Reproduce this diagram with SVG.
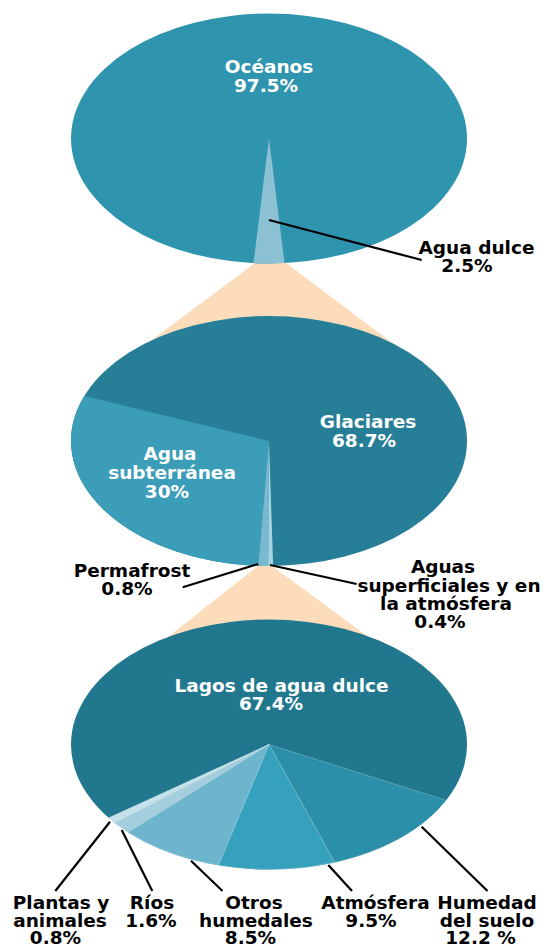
<svg xmlns="http://www.w3.org/2000/svg" width="544" height="947" viewBox="0 0 544 947">
<style>
text{font-family:"DejaVu Sans","Liberation Sans",sans-serif;font-weight:bold;font-size:18.5px;text-anchor:middle}
.w{fill:#ffffff}
.k{fill:#000000}
.ld{stroke:#000000;stroke-width:2.2;fill:none}
.pe{fill:#fddcbb}
.sl{stroke:#ffffff;stroke-opacity:.3;stroke-width:.8}
</style>
<g id="zoom-links">
<polygon class="pe" points="261.7,258 279.5,258 395,345 145,345"/>
<polygon class="pe" points="260.5,564 269.3,564 372.5,640 164,640"/>
</g>
<g id="pie-total">
<ellipse cx="269" cy="138.5" rx="198" ry="125" fill="#2f95ae"/>
<path id="agua-dulce-slice" d="M269,138.5 L284.5,263.1 A198,125 0 0 1 253.5,263.1 Z" fill="#8cc0d3"/>
<text class="w" x="269" y="73">Océanos</text>
<text class="w" x="266" y="92">97.5%</text>
</g>
<g id="pie-dulce">
<ellipse cx="269" cy="441" rx="198" ry="125" fill="#277f97"/>
<path d="M269,441 L258.22,565.8 A198,125 0 0 1 84.31,395.96 Z" fill="#3b9db8"/>
<path d="M269,441 L268.17,566 A198,125 0 0 1 258.22,565.8 Z" fill="#78b9d0"/>
<path d="M269,441 L273.15,565.97 A198,125 0 0 1 268.17,566 Z" fill="#a8d3e2"/>
<text class="w" x="368" y="428">Glaciares</text>
<text class="w" x="364" y="447">68.7%</text>
<text class="w" x="170" y="460">Agua</text>
<text class="w" x="172" y="479">subterránea</text>
<text class="w" x="167" y="498">30%</text>
</g>
<g id="pie-superficial">
<ellipse cx="269" cy="744.5" rx="198" ry="125" fill="#21778d"/>
<path class="sl" d="M269,744.5 L446.2,800.3 A198,125 0 0 1 334.77,862.4 Z" fill="#2b8fa9"/>
<path class="sl" d="M269,744.5 L334.77,862.4 A198,125 0 0 1 218.42,865.35 Z" fill="#36a1bc"/>
<path class="sl" d="M269,744.5 L218.42,865.35 A198,125 0 0 1 128.02,832.27 Z" fill="#6db5cd"/>
<path class="sl" d="M269,744.5 L128.02,832.27 A198,125 0 0 1 114.58,822.74 Z" fill="#a3cedd"/>
<path class="sl" d="M269,744.5 L114.58,822.74 A198,125 0 0 1 108.61,817.8 Z" fill="#c5e1ea"/>
<text class="w" x="281.5" y="692">Lagos de agua dulce</text>
<text class="w" x="271" y="710">67.4%</text>
</g>
<g id="connectors">
<line class="ld" x1="269" y1="220" x2="421.7" y2="260"/>
<line class="ld" x1="258.3" y1="564" x2="182.7" y2="587.3"/>
<line class="ld" x1="270" y1="565" x2="356.7" y2="584"/>
<line class="ld" x1="110" y1="821.7" x2="55.3" y2="891"/>
<line class="ld" x1="121.7" y1="830" x2="152.3" y2="891"/>
<line class="ld" x1="191" y1="860.7" x2="222.5" y2="891"/>
<line class="ld" x1="328.3" y1="865" x2="352" y2="891"/>
<line class="ld" x1="421.7" y1="826.7" x2="487.5" y2="891"/>
</g>
<g id="label-agua-dulce">
<text class="k" x="476.5" y="254">Agua dulce</text>
<text class="k" x="467" y="271.5">2.5%</text>
</g>
<g id="label-permafrost">
<text class="k" x="132" y="577">Permafrost</text>
<text class="k" x="127" y="594.5">0.8%</text>
</g>
<g id="label-aguas-superficiales">
<text class="k" x="443" y="573">Aguas</text>
<text class="k" x="449" y="591.5">superficiales y en</text>
<text class="k" x="446" y="610">la atmósfera</text>
<text class="k" x="440" y="627.5">0.4%</text>
</g>
<g id="label-plantas">
<text class="k" x="61" y="909">Plantas y</text>
<text class="k" x="60" y="926.5">animales</text>
<text class="k" x="55.5" y="943.5">0.8%</text>
</g>
<g id="label-rios">
<text class="k" x="152" y="909">Ríos</text>
<text class="k" x="151" y="926.5">1.6%</text>
</g>
<g id="label-otros">
<text class="k" x="254" y="909">Otros</text>
<text class="k" x="256" y="926.5">humedales</text>
<text class="k" x="250.5" y="943.5">8.5%</text>
</g>
<g id="label-atmosfera">
<text class="k" x="375.5" y="909">Atmósfera</text>
<text class="k" x="371" y="926.5">9.5%</text>
</g>
<g id="label-humedad">
<text class="k" x="487" y="909">Humedad</text>
<text class="k" x="487" y="926.5">del suelo</text>
<text class="k" x="480.5" y="943.5">12.2 %</text>
</g>
</svg>
